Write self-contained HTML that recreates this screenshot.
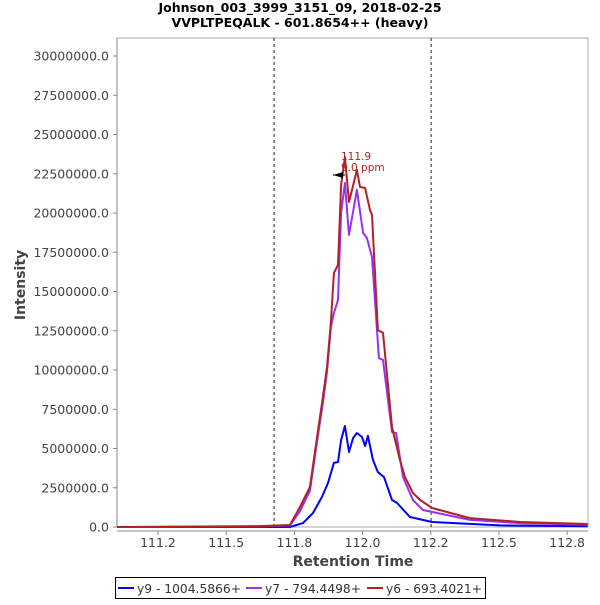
<!DOCTYPE html>
<html><head><meta charset="utf-8">
<style>
body{margin:0;background:#fff;font-family:"Liberation Sans","DejaVu Sans",sans-serif;}
svg text{font-family:"DejaVu Sans","Liberation Sans",sans-serif;}
</style></head>
<body>
<svg id="chart" width="600" height="600" xmlns="http://www.w3.org/2000/svg">
<text x="300" y="12" text-anchor="middle" font-size="12.5" font-weight="bold" fill="#000">Johnson_003_3999_3151_09, 2018-02-25</text>
<text x="300" y="27" text-anchor="middle" font-size="12.5" font-weight="bold" fill="#000">VVPLTPEQALK - 601.8654++ (heavy)</text>
<rect x="117" y="38" width="471" height="489" fill="#fff" stroke="#aaa" stroke-width="1"/>
<g id="yaxis"></g>
<g id="xaxis"></g>
<g id="series"></g>
<text transform="translate(25,285) rotate(-90)" text-anchor="middle" font-size="14" font-weight="bold" fill="#444">Intensity</text>
<text x="353" y="566" text-anchor="middle" font-size="14" font-weight="bold" fill="#444">Retention Time</text>
<g>
<polygon points="333,175 343,172 343,178" fill="#000"/>
<line x1="333" y1="175" x2="345" y2="175" stroke="#000" stroke-width="1"/>
<text x="341" y="160" font-size="10.5" fill="#b22222">111.9</text>
<text x="341" y="171" font-size="10.5" fill="#b22222">9.0 ppm</text>
</g>
<g>
<rect x="115.5" y="577.5" width="370" height="21" fill="#fff" stroke="#000"/>
<line x1="118" y1="588" x2="134" y2="588" stroke="#0000ff" stroke-width="2"/>
<text x="137" y="593" font-size="12.5" fill="#333" textLength="104" lengthAdjust="spacingAndGlyphs">y9 - 1004.5866+</text>
<line x1="246" y1="588" x2="262" y2="588" stroke="#9932ee" stroke-width="2"/>
<text x="265" y="593" font-size="12.5" fill="#333" textLength="96" lengthAdjust="spacingAndGlyphs">y7 - 794.4498+</text>
<line x1="367" y1="588" x2="383" y2="588" stroke="#b22222" stroke-width="2"/>
<text x="386" y="593" font-size="12.5" fill="#333" textLength="96" lengthAdjust="spacingAndGlyphs">y6 - 693.4021+</text>
</g>
</svg>
<script>
const yTicks=[0,2500000,5000000,7500000,10000000,12500000,15000000,17500000,20000000,22500000,25000000,27500000,30000000];
const xTickValues=[111.2,111.4667,111.7333,112.0,112.2667,112.5333,112.8];
const xTickLabels=["111.2","111.5","111.8","112.0","112.2","112.5","112.8"];
const boundaryTimes=[111.654,112.268];
const y9Times=[111.04,111.716,111.767,111.806,111.841,111.865,111.888,111.904,111.916,111.931,111.947,111.963,111.978,111.998,112.010,112.021,112.041,112.060,112.084,112.115,112.135,112.185,112.272,112.538,112.88];
const y9Values=[0,0,0.25,0.89,1.91,2.80,4.08,4.14,5.54,6.43,4.78,5.67,5.99,5.73,5.16,5.80,4.27,3.50,3.18,1.72,1.53,0.64,0.32,0.10,0.05];
const y7Times=[111.04,111.599,111.716,111.755,111.794,111.826,111.845,111.861,111.876,111.888,111.904,111.916,111.931,111.947,111.978,112.002,112.017,112.037,112.064,112.080,112.115,112.131,112.158,112.197,112.236,112.42,112.616,112.88];
const y7Values=[0,0.03,0.10,1.0,2.3,5.9,7.9,9.9,12.74,13.63,14.46,20.0,21.91,18.6,21.47,18.73,18.41,17.2,10.76,10.64,6.05,5.99,3.18,1.72,1.08,0.45,0.25,0.15];
const y6Times=[111.04,111.599,111.716,111.755,111.794,111.826,111.845,111.861,111.876,111.888,111.904,111.916,111.931,111.947,111.978,111.990,112.010,112.029,112.037,112.060,112.080,112.115,112.146,112.166,112.197,112.225,112.272,112.42,112.616,112.88];
const y6Values=[0,0.06,0.13,1.27,2.55,6.18,8.28,10.19,13.06,16.18,16.69,21.78,23.57,20.70,22.74,21.66,21.59,20.19,19.87,12.55,12.36,6.37,4.27,3.18,2.17,1.72,1.21,0.57,0.32,0.19];
const NS="http://www.w3.org/2000/svg";
const X=t=>158+(t-111.2)*255.7;
const Y=v=>527-v/2500000*39.25;
function mk(tag,attrs,parent){const e=document.createElementNS(NS,tag);for(const k in attrs)e.setAttribute(k,attrs[k]);parent.appendChild(e);return e;}
const ya=document.getElementById('yaxis');
mk('line',{x1:117,y1:38,x2:117,y2:527,stroke:'#888'},ya);
yTicks.forEach(v=>{
  const y=Y(v);
  mk('line',{x1:113,y1:y,x2:117,y2:y,stroke:'#888'},ya);
  const t=mk('text',{x:109,y:y+4.5,'text-anchor':'end','font-size':'12.5',fill:'#444'},ya);
  
  
  t.textContent=v.toFixed(1);
});
const xa=document.getElementById('xaxis');
mk('line',{x1:117,y1:531,x2:588,y2:531,stroke:'#888'},xa);
xTickValues.forEach((v,i)=>{
  const x=X(v);
  mk('line',{x1:x,y1:531,x2:x,y2:535,stroke:'#888'},xa);
  const t=mk('text',{x:x,y:547,'text-anchor':'middle','font-size':'12.5',fill:'#444'},xa);
  
  
  t.textContent=xTickLabels[i];
});
const sg=document.getElementById('series');
boundaryTimes.forEach(b=>{
  const l=mk('line',{x1:X(b),y1:38,x2:X(b),y2:527,stroke:'#222','stroke-dasharray':'3,3'},sg);
  
  
});
function series(times,vals,color,name){
  const d=times.map((t,i)=>(i?'L':'M')+X(t).toFixed(1)+','+Y(vals[i]*1e6).toFixed(1)).join(' ');
  const p=mk('path',{d:d,fill:'none',stroke:color,'stroke-width':2,'stroke-linejoin':'round'},sg);
  
  
}
series(y9Times,y9Values,'#0000ff','series-y9');
series(y7Times,y7Values,'#9932ee','series-y7');
series(y6Times,y6Values,'#b22222','series-y6');
</script>
</body></html>
